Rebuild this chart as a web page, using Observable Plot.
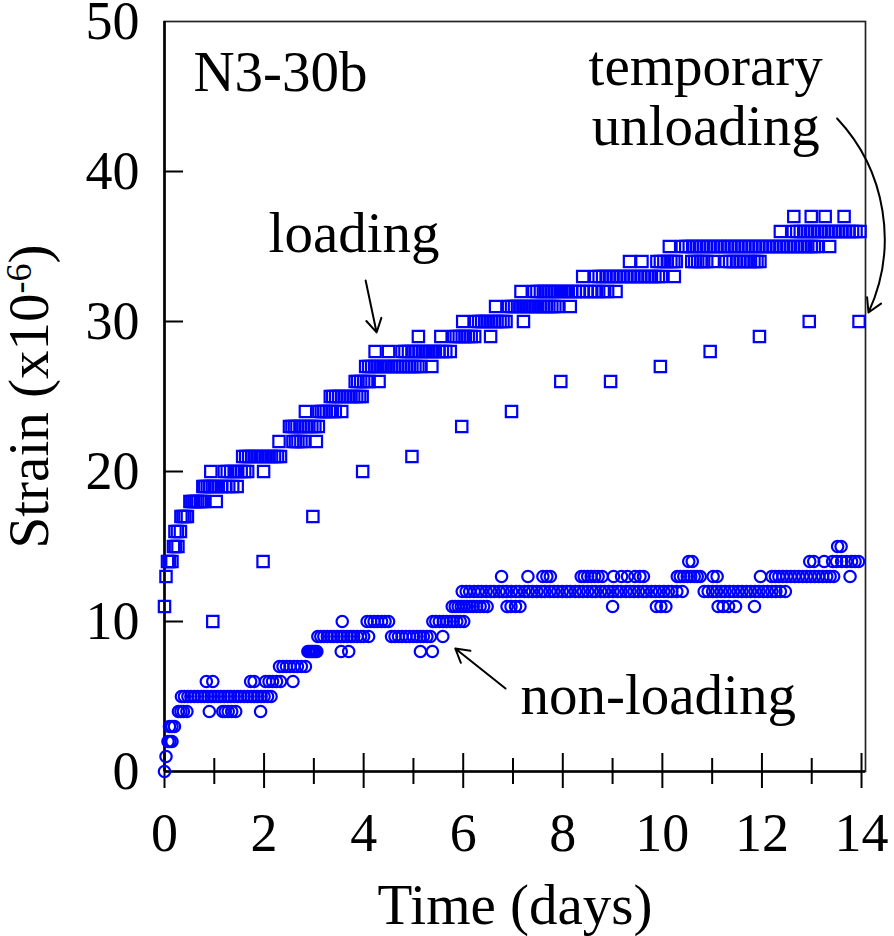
<!DOCTYPE html>
<html>
<head>
<meta charset="utf-8">
<script src="https://cdn.jsdelivr.net/npm/d3@7"></script>
<script src="https://cdn.jsdelivr.net/npm/@observablehq/plot@0.6"></script>
<style>
  html, body { margin: 0; padding: 0; background: #ffffff; }
  #chart svg { display: block; }
</style>
</head>
<body>
<div id="chart"></div>
<script>
// ---------- DATA ----------
// Loading specimen (open squares): strain level (x10^-6) and the times (days) recorded at that level
const loadingStrain = [11, 13, 14, 15, 16, 17, 18, 19, 20, 21, 22, 23, 24, 25, 26, 27, 28, 29, 30, 31, 32, 33, 34, 35, 36, 37];
const loadingDays = [
  [0],
  [0.03],
  [0.06, 0.10, 0.15],
  [0.18, 0.22, 0.27],
  [0.21, 0.26, 0.32],
  [0.33, 0.37, 0.41, 0.46],
  [0.51, 0.55, 0.59, 0.63, 0.67, 0.72, 0.76, 0.80, 1.04],
  [0.77, 0.81, 0.86, 0.91, 0.96, 1.02, 1.08, 1.15, 1.22, 1.29, 1.37, 1.46],
  [0.93, 1.20, 1.26, 1.33, 1.40, 1.47, 1.54, 1.61, 1.67, 1.99],
  [1.57, 1.63, 1.69, 1.75, 1.82, 1.88, 1.95, 2.02, 2.08, 2.15, 2.21, 2.27, 2.33],
  [2.30, 2.58, 2.63, 2.68, 2.74, 2.80, 3.05],
  [2.51, 2.56, 2.61, 2.66, 2.72, 2.78, 2.84, 2.90, 2.96, 3.02, 3.09],
  [2.83, 3.10, 3.15, 3.20, 3.25, 3.31, 3.37, 3.43, 3.56],
  [3.33, 3.38, 3.44, 3.50, 3.56, 3.62, 3.68, 3.74, 3.80, 3.86, 3.92, 3.97],
  [3.83, 3.88, 3.94, 4.00, 4.06, 4.11, 4.31],
  [4.04, 4.10, 4.16, 4.22, 4.28, 4.35, 4.42, 4.48, 4.55, 4.61, 4.67, 4.73, 4.79, 4.85, 4.91, 4.97, 5.03, 5.09, 5.15, 5.37],
  [4.23, 4.50, 4.77, 4.83, 4.90, 4.97, 5.04, 5.11, 5.18, 5.24, 5.31, 5.38, 5.44, 5.51, 5.58, 5.65, 5.74],
  [5.10, 5.55, 5.81, 5.86, 5.92, 5.98, 6.04, 6.10, 6.16, 6.23, 6.55],
  [5.99, 6.25, 6.31, 6.37, 6.43, 6.49, 6.56, 6.62, 6.68, 6.74, 6.80, 6.86, 7.21],
  [6.65, 6.91, 6.97, 7.03, 7.09, 7.15, 7.22, 7.28, 7.34, 7.41, 7.47, 7.54, 7.60, 7.66, 7.72, 7.78, 7.84, 7.90, 8.15],
  [7.16, 7.42, 7.48, 7.55, 7.61, 7.67, 7.73, 7.79, 7.85, 7.91, 7.98, 8.05, 8.11, 8.18, 8.25, 8.32, 8.40, 8.48, 8.56, 8.64, 8.72, 8.81, 8.90, 9.07],
  [8.40, 8.66, 8.73, 8.80, 8.87, 8.94, 9.01, 9.08, 9.15, 9.22, 9.29, 9.36, 9.43, 9.50, 9.57, 9.64, 9.71, 9.78, 9.85, 9.92, 9.98, 10.24],
  [9.34, 9.59, 9.89, 9.96, 10.03, 10.10, 10.17, 10.23, 10.28, 10.59, 10.65, 10.71, 10.77, 10.83, 10.89, 11.02, 11.28, 11.35, 11.42, 11.49, 11.56, 11.63, 11.70, 11.77, 11.84, 11.90, 11.96],
  [10.14, 10.40, 10.47, 10.54, 10.61, 10.68, 10.75, 10.82, 10.89, 10.96, 11.03, 11.10, 11.17, 11.24, 11.31, 11.38, 11.45, 11.52, 11.59, 11.66, 11.73, 11.80, 11.87, 11.94, 12.01, 12.08, 12.15, 12.22, 12.29, 12.36, 12.43, 12.50, 12.57, 12.64, 12.71, 12.78, 12.85, 12.92, 12.99, 13.05, 13.11, 13.36],
  [12.37, 12.63, 12.70, 12.77, 12.84, 12.91, 12.98, 13.05, 13.12, 13.19, 13.26, 13.33, 13.40, 13.47, 13.54, 13.61, 13.68, 13.75, 13.82, 13.89, 13.97],
  [12.64, 12.99, 13.27, 13.65]
];

// Temporary unloading readings (open squares, once a day)
const unloadingDays   = [0.97, 1.98, 2.98, 3.98, 4.97, 5.97, 6.97, 7.96, 8.96, 9.96, 10.96, 11.95, 12.95, 13.95];
const unloadingStrain = [10, 14, 17, 20, 21, 23, 24, 26, 26, 27, 28, 29, 30, 30];

// Non-loading specimen (open circles): strain level and the times recorded at that level
const nonLoadingStrain = [0, 1, 2, 3, 4, 5, 6, 7, 8, 9, 10, 11, 12, 13, 14, 15];
const nonLoadingDays = [
  [0],
  [0.03],
  [0.07, 0.11, 0.15],
  [0.10, 0.15, 0.20],
  [0.28, 0.33, 0.38, 0.45, 0.90, 1.17, 1.22, 1.28, 1.35, 1.43, 1.93],
  [0.34, 0.40, 0.47, 0.53, 0.60, 0.67, 0.74, 0.80, 0.87, 0.94, 1.00, 1.07, 1.13, 1.20, 1.27, 1.33, 1.40, 1.47, 1.53, 1.60, 1.67, 1.74, 1.80, 1.87, 1.94, 2.00, 2.07, 2.14],
  [0.84, 0.97, 1.73, 1.80, 2.03, 2.10, 2.17, 2.25, 2.33, 2.58],
  [2.31, 2.38, 2.45, 2.52, 2.60, 2.67, 2.75, 2.83],
  [2.88, 2.91, 2.94, 2.97, 3.00, 3.03, 3.06, 3.55, 3.70, 5.14, 5.38],
  [3.08, 3.14, 3.20, 3.27, 3.34, 3.40, 3.47, 3.54, 3.60, 3.67, 3.74, 3.80, 3.87, 3.94, 4.00, 4.10, 4.56, 4.63, 4.70, 4.77, 4.85, 4.92, 5.00, 5.07, 5.14, 5.20, 5.27, 5.34, 5.59],
  [3.57, 4.07, 4.14, 4.21, 4.28, 4.36, 4.43, 4.50, 5.39, 5.45, 5.52, 5.60, 5.67, 5.74, 5.80, 5.87, 5.94, 6.01],
  [5.78, 5.84, 5.90, 5.96, 6.02, 6.08, 6.14, 6.20, 6.27, 6.34, 6.41, 6.48, 6.88, 6.96, 7.05, 7.14, 9.00, 9.88, 9.97, 10.07, 11.12, 11.22, 11.33, 11.47, 11.85],
  [5.98, 6.06, 6.13, 6.22, 6.30, 6.37, 6.46, 6.55, 6.62, 6.72, 6.80, 6.87, 6.97, 7.06, 7.13, 7.23, 7.31, 7.39, 7.48, 7.57, 7.64, 7.74, 7.82, 7.90, 7.99, 8.08, 8.15, 8.25, 8.33, 8.41, 8.50, 8.59, 8.66, 8.76, 8.84, 8.92, 9.01, 9.10, 9.17, 9.27, 9.35, 9.43, 9.52, 9.61, 9.68, 9.78, 9.86, 9.94, 10.03, 10.12, 10.19, 10.29, 10.40, 10.84, 10.92, 11.01, 11.09, 11.18, 11.26, 11.35, 11.43, 11.52, 11.60, 11.69, 11.77, 11.86, 11.94, 12.03, 12.11, 12.20, 12.28, 12.37, 12.47],
  [6.77, 7.30, 7.60, 7.68, 7.75, 8.37, 8.43, 8.50, 8.57, 8.64, 8.71, 8.79, 9.02, 9.18, 9.30, 9.45, 9.55, 9.62, 10.30, 10.36, 10.43, 10.50, 10.57, 10.64, 10.70, 10.76, 11.02, 11.10, 11.97, 12.20, 12.27, 12.34, 12.42, 12.50, 12.58, 12.66, 12.74, 12.82, 12.90, 12.98, 13.06, 13.14, 13.22, 13.30, 13.37, 13.44, 13.77],
  [10.53, 10.60, 12.96, 13.04, 13.25, 13.42, 13.50, 13.60, 13.70, 13.80, 13.87, 13.94],
  [13.52, 13.59]
];

// Axis ticks
const xMajorTicks = [0, 2, 4, 6, 8, 10, 12, 14];
const xMinorTicks = [1, 3, 5, 7, 9, 11, 13];
const yTickLabels = [0, 10, 20, 30, 40, 50];
const yInnerTicks = [10, 20, 30, 40];

// ---------- TABLES ----------
const loadingData = loadingStrain.flatMap((s, i) => loadingDays[i].map(d => ({day: d, strain: s})));
const unloadingData = unloadingDays.map((d, i) => ({day: d, strain: unloadingStrain[i]}));
const nonLoadingData = nonLoadingStrain.flatMap((s, i) => nonLoadingDays[i].map(d => ({day: d, strain: s})));

const BLUE = "#0000ff";
const FONT = '"Liberation Serif", "Times New Roman", Times, serif';
const empty = () => "";

const chart = Plot.plot({
  width: 894,
  height: 936,
  marginLeft: 164,
  marginRight: 29,
  marginTop: 21,
  marginBottom: 165,
  style: {fontFamily: FONT, fontSize: "54px", background: "#ffffff", color: "#000000", overflow: "visible"},
  x: {domain: [0, 14.08]},
  y: {domain: [0, 50]},
  marks: [
    Plot.frame({stroke: "#222", strokeWidth: 1.7}),
    // tick labels + axis titles
    Plot.axisY(yTickLabels, {anchor: "left", tickSize: 0, tickPadding: 25, fontSize: 54,
      label: "Strain (x10-6)", labelAnchor: "center", labelOffset: 157, labelArrow: "none"}),
    Plot.axisX(xMajorTicks, {anchor: "bottom", tickSize: 0, tickPadding: 41, fontSize: 54,
      label: "Time (days)", labelAnchor: "center", labelOffset: 152, labelArrow: "none"}),
    // tick marks
    Plot.axisY(yInnerTicks, {anchor: "left", tickSize: -19, strokeWidth: 2, tickFormat: empty, label: null}),
    Plot.axisX(xMajorTicks, {anchor: "bottom", tickSize: 17, strokeWidth: 2, tickFormat: empty, label: null}),
    Plot.axisX(xMajorTicks, {anchor: "bottom", tickSize: -18, strokeWidth: 2, tickFormat: empty, label: null}),
    Plot.axisX(xMinorTicks, {anchor: "bottom", tickSize: 13, strokeWidth: 2, tickFormat: empty, label: null}),
    Plot.axisX(xMinorTicks, {anchor: "bottom", tickSize: -13, strokeWidth: 2, tickFormat: empty, label: null}),
    // heavy left and bottom axis lines
    Plot.ruleX([0], {stroke: "#000", strokeWidth: 2.6}),
    Plot.ruleY([0], {stroke: "#000", strokeWidth: 2.6}),
    // data
    Plot.dot(nonLoadingData, {x: "day", y: "strain", symbol: "circle", r: 5.7, stroke: BLUE, strokeWidth: 2.2, fill: "none"}),
    Plot.dot(loadingData, {x: "day", y: "strain", symbol: "square", r: 6.4, stroke: BLUE, strokeWidth: 2.2, fill: "none"}),
    Plot.dot(unloadingData, {x: "day", y: "strain", symbol: "square", r: 6.4, stroke: BLUE, strokeWidth: 2.2, fill: "none"}),
    // annotations
    Plot.text(["N3-30b"], {x: 0.58, y: 48.05, textAnchor: "start", lineAnchor: "top", fontSize: 57, fill: "#000"}),
    Plot.text(["loading"], {x: 2.09, y: 37.32, textAnchor: "start", lineAnchor: "top", fontSize: 57, fill: "#000"}),
    Plot.text(["temporary\nunloading"], {x: 10.87, y: 48.59, textAnchor: "middle", lineAnchor: "top", lineHeight: 1.054, fontSize: 57, fill: "#000"}),
    Plot.text(["non-loading"], {x: 7.15, y: 6.52, textAnchor: "start", lineAnchor: "top", fontSize: 57, fill: "#000"}),
    Plot.arrow([0], {x1: 4.04, y1: 32.73, x2: 4.26, y2: 29.27, stroke: "#000", strokeWidth: 2, headLength: 11.5}),
    Plot.arrow([0], {x1: 6.85, y1: 5.53, x2: 5.84, y2: 8.2, stroke: "#000", strokeWidth: 2, headLength: 11.5}),
    Plot.arrow([0], {x1: 13.51, y1: 43.53, x2: 14.14, y2: 30.6, bend: 34, stroke: "#000", strokeWidth: 2, headLength: 11.5})
  ]
});

// axis titles: larger font, superscript exponent on the strain unit
const yLab = chart.querySelector('g[aria-label="y-axis label"] text');
if (yLab) {
  yLab.setAttribute("font-size", "57");
  while (yLab.firstChild) yLab.removeChild(yLab.firstChild);
  const ns = "http://www.w3.org/2000/svg";
  const t1 = document.createElementNS(ns, "tspan"); t1.textContent = "Strain (x10";
  const t2 = document.createElementNS(ns, "tspan"); t2.textContent = "-6";
  t2.setAttribute("font-size", "36"); t2.setAttribute("dy", "-17");
  const t3 = document.createElementNS(ns, "tspan"); t3.textContent = ")";
  t3.setAttribute("dy", "17");
  yLab.appendChild(t1); yLab.appendChild(t2); yLab.appendChild(t3);
}
const xLab = chart.querySelector('g[aria-label="x-axis label"] text');
if (xLab) xLab.setAttribute("font-size", "57");

document.getElementById("chart").appendChild(chart);
</script>
</body>
</html>
